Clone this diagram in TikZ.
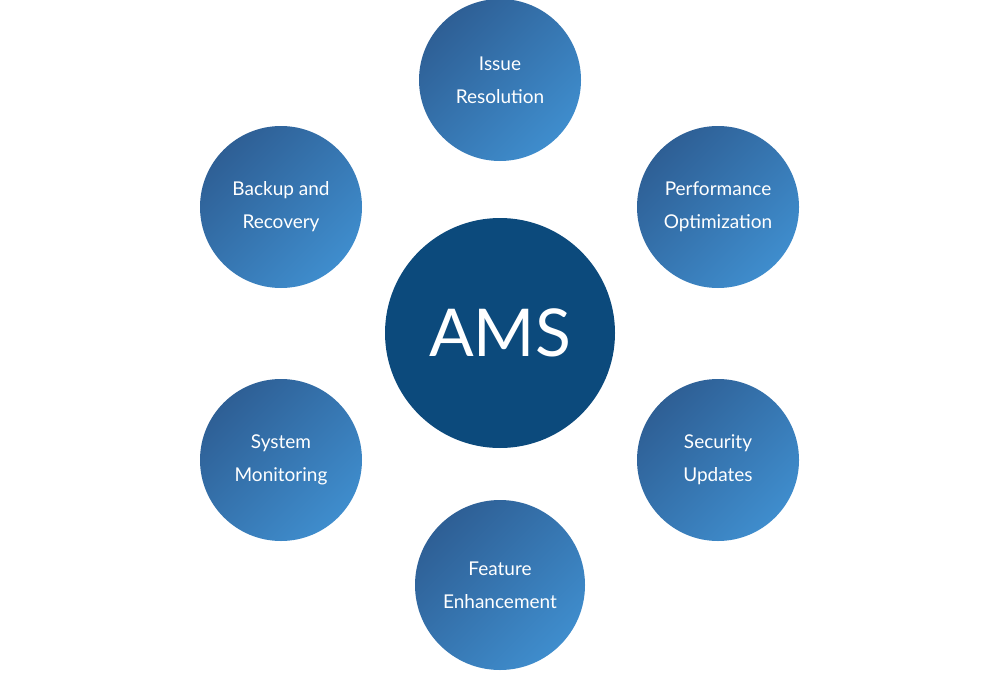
\documentclass[tikz,border=0pt]{standalone}
\usepackage{fontspec}
\setmainfont{Lato}
\begin{document}
\begin{tikzpicture}[x=1pt,y=-1pt,
  sat/.style={circle,minimum size=162pt,inner sep=0pt,align=center,text=white,font=\fontsize{19}{33}\selectfont,
    shading=axis,left color=gradA,right color=gradB,shading angle=45},
  hub/.style={circle,minimum size=230pt,fill=hubc,text=white,font=\fontsize{66}{70}\selectfont}]
\definecolor{gradA}{HTML}{2E5F95}
\definecolor{gradB}{HTML}{3F8DCD}
\definecolor{hubc}{HTML}{0C4A7C}
\useasboundingbox (0,0) rectangle (1000,674);
\node[hub] (ams) at (500,333) {AMS};
\node[sat] (issue) at (500,80) {Issue\\Resolution};
\node[sat] (perf) at (718,207) {Performance\\Optimization};
\node[sat] (sec) at (718,460) {Security\\Updates};
\node[sat,minimum size=170pt] (feat) at (500,585) {Feature\\Enhancement};
\node[sat] (sys) at (281,460) {System\\Monitoring};
\node[sat] (back) at (281,207) {Backup and\\Recovery};
\end{tikzpicture}
\end{document}
